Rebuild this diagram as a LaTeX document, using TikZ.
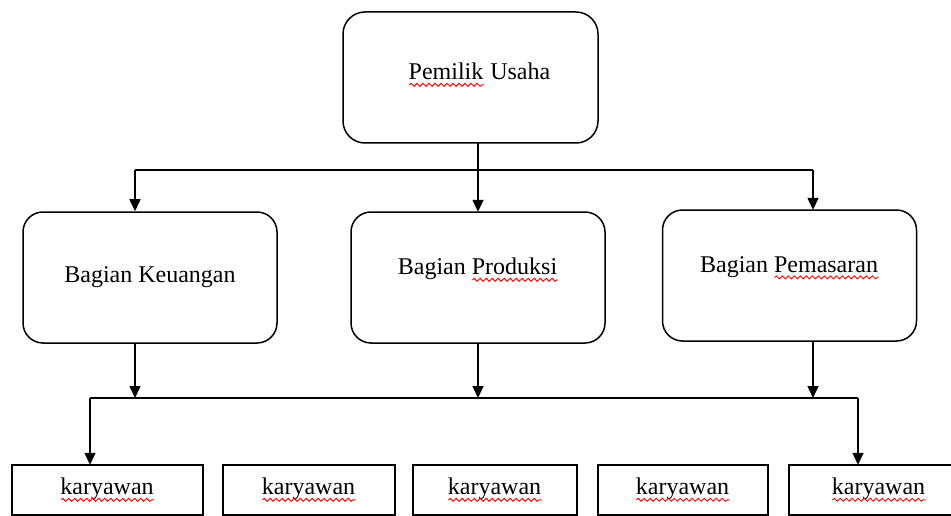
\documentclass[tikz,border=0pt]{standalone}
\usepackage{fontspec}
\setmainfont{Liberation Serif}
\usetikzlibrary{arrows.meta,decorations.pathmorphing}
\newlength{\typowd}
\newcommand{\typo}[1]{\settowidth{\typowd}{#1}\rlap{#1}\tikz[baseline=0pt,x=1pt,y=1pt]{\path (0,0);\draw[red,line width=0.9pt,sharp corners,decorate,decoration={snake,amplitude=1.5pt,segment length=6pt}] (0,-5) -- (\typowd,-5);}}

\begin{document}
\begin{tikzpicture}[x=1pt,y=-1pt,line width=1.5pt,
	font=\fontsize{24}{28}\selectfont,
	headbox/.style={draw,rounded corners=22pt,minimum width=255pt,minimum height=131pt},
	partbox/.style={draw,rounded corners=20pt,minimum width=254pt,minimum height=131pt},
	staffbox/.style={draw,minimum height=50pt},
	arr/.style={-{Triangle[length=12pt,width=11pt]}}]
	\useasboundingbox (0,0) rectangle (951,516);
	\clip (0,0) rectangle (951,516);
	\node[headbox,text depth=12pt] (pemilik) at (470.5,77.5) {\hspace*{18pt}\typo{Pemilik} Usaha};
	\node[partbox] (keuangan) at (150,277.5) {Bagian Keuangan};
	\node[partbox,text depth=22pt] (produksi) at (478,277.5) {Bagian \typo{Produksi}};
	\node[partbox,text depth=22pt] (pemasaran) at (789.5,275.5) {Bagian \typo{Pemasaran}};
	\node[staffbox,minimum width=191pt] (kar1) at (107.5,490) {\typo{karyawan}};
	\node[staffbox,minimum width=172pt] (kar2) at (309,490) {\typo{karyawan}};
	\node[staffbox,minimum width=164pt] (kar3) at (495,490) {\typo{karyawan}};
	\node[staffbox,minimum width=170pt] (kar4) at (683,490) {\typo{karyawan}};
	\node[staffbox,minimum width=180pt] (kar5) at (879,490) {\typo{karyawan}};
	\coordinate (j1) at (135,170);
	\coordinate (j2) at (813,170);
	\coordinate (k1) at (90,398);
	\coordinate (k2) at (858,398);
	\draw (j1) -- (j2);
	\draw[arr] (pemilik.south -| produksi.north) -- (produksi.north);
	\draw[arr] (j1) -- (j1 |- keuangan.north);
	\draw[arr] (j2) -- (j2 |- pemasaran.north);
	\draw (k1) -- (k2);
	\draw[arr] (j1 |- keuangan.south) -- (j1 |- k1);
	\draw[arr] (produksi.south) -- (produksi.south |- k1);
	\draw[arr] (j2 |- pemasaran.south) -- (j2 |- k1);
	\draw[arr] (k1) -- (k1 |- kar1.north);
	\draw[arr] (k2) -- (k2 |- kar5.north);
\end{tikzpicture}
\end{document}
